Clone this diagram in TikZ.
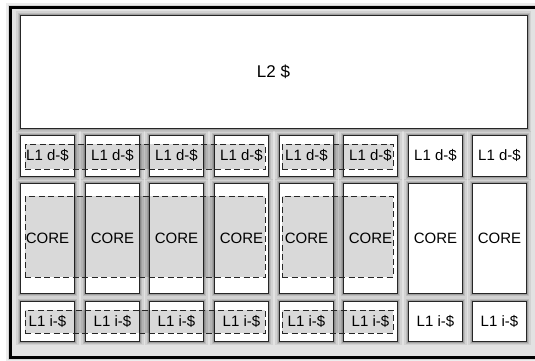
\documentclass[tikz,border=0pt]{standalone}
\usepackage{fontspec}
\setmainfont{Liberation Sans}
\definecolor{bgframe}{HTML}{E2E2E2}
\definecolor{edgegray}{HTML}{262626}
\definecolor{dashgray}{HTML}{262626}
\tikzset{
  halo/.style={
    preaction={draw=black, line width=8pt, opacity=0.07},
    preaction={draw=black, line width=5pt, opacity=0.1},
    preaction={draw=black, line width=3pt, opacity=0.15}},
  unitbox/.style={halo, draw=edgegray, line width=0.9pt, fill=white,
    inner sep=0pt, minimum width=54.5pt,
    font=\fontsize{15}{18}\selectfont},
  dbox/.style={unitbox, minimum height=41pt},
  cbox/.style={unitbox, minimum height=110pt},
  ibox/.style={unitbox, minimum height=40pt},
  grp/.style={draw=dashgray, dash pattern=on 6pt off 3.5pt,
    line width=0.9pt, fill=black, fill opacity=0.15, inner sep=0pt}
}
\begin{document}
\begin{tikzpicture}[x=1pt,y=-1pt]
\useasboundingbox (0,0) rectangle (535,360);
% frame
\node[halo, draw=black, line width=3pt, fill=bgframe, inner sep=0pt,
  minimum width=545pt, minimum height=350pt, anchor=north west]
  (frame) at (8.5,5.5) {};
% L2
\node[halo, draw=edgegray, line width=0.9pt, fill=white, inner sep=0pt,
  minimum width=507pt, minimum height=113pt,
  font=\fontsize{17}{20}\selectfont] (l2) at (273.5,71.5) {L2 \$};
% columns
\foreach \i/\x in {1/47.5,2/112.5,3/176.5,4/241.5,5/306.5,6/370.5,7/435.5,8/499.5}{
  \node[dbox] (d\i) at (\x,155.5) {L1 d-\$};
  \node[cbox] (c\i) at (\x,238) {CORE};
  \node[ibox] (i\i) at (\x,321) {L1 i-\$};
}
% dashed groups
\node[grp, minimum width=240pt, minimum height=25pt] (gd1) at (145,156.5) {};
\node[grp, minimum width=240pt, minimum height=81pt] (gc1) at (145,236.5) {};
\node[grp, minimum width=240pt, minimum height=23pt] (gi1) at (145,321.5) {};
\node[grp, minimum width=111pt, minimum height=25pt] (gd2) at (337.5,156.5) {};
\node[grp, minimum width=111pt, minimum height=81pt] (gc2) at (337.5,236.5) {};
\node[grp, minimum width=111pt, minimum height=23pt] (gi2) at (337.5,321.5) {};
\end{tikzpicture}
\end{document}
